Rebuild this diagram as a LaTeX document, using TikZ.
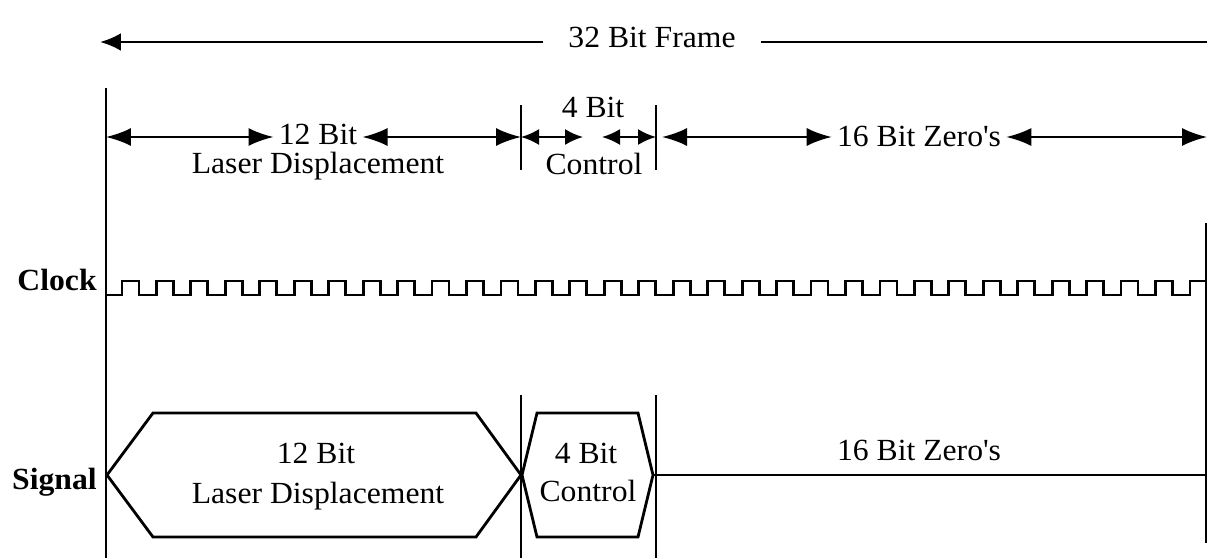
\documentclass[tikz,border=0pt]{standalone}
\usepackage{fontspec}
\setmainfont{Liberation Serif}[FakeStretch=1.03]
\usetikzlibrary{arrows.meta}

\begin{document}
\begin{tikzpicture}[
    x=0.02cm, y=-0.02cm,
    txt/.style={anchor=base, inner xsep=0.1cm, inner ysep=0pt, font=\fontsize{17.5}{21}\selectfont},
    rowname/.style={anchor=base east, inner sep=0pt, font=\fontsize{17.5}{21}\selectfont\bfseries},
    dim/.style={line width=1.2pt, {Latex[length=0.5cm,width=0.36cm]}-{Latex[length=0.5cm,width=0.36cm]}},
    dimsmall/.style={line width=1.2pt, {Latex[length=0.36cm,width=0.32cm]}-{Latex[length=0.36cm,width=0.32cm]}},
    divider/.style={line width=1.1pt},
    trace/.style={line width=1.6pt, line join=miter}
  ]
  \useasboundingbox (0,0) rectangle (1209,558);

  % 32 bit frame
  \node[txt, inner xsep=0.5cm] (frame) at (652,47) {32 Bit Frame};
  \coordinate (frameL) at (100,42);
  \coordinate (frameR) at (1207,42);
  \draw[line width=1.7pt, -{Latex[length=0.42cm,width=0.36cm]}] (frame.west |- frameL) -- (frameL);
  \draw[line width=1.7pt] (frame.east |- frameR) -- (frameR);

  % bit boundaries
  \coordinate (b0) at (106,137);
  \coordinate (b12) at (521,137);
  \coordinate (b16) at (656,137);
  \coordinate (zeroL) at (662,137);
  \coordinate (b32) at (1207,137);
  \draw[divider] (106,88) -- (106,558);
  \draw[divider] (521,105) -- (521,170);
  \draw[divider] (656,105) -- (656,170);
  \draw[divider] (521,395) -- (521,558);
  \draw[divider] (656,395) -- (656,558);
  \draw[divider] (1206,223) -- (1206,543);

  % 12 bit laser displacement
  \node[txt] (dispbits) at (318,144) {12 Bit};
  \node[txt] (disptext) at (318,173) {Laser Displacement};
  \draw[dim] (b0) -- (dispbits.west |- b0);
  \draw[dim] (dispbits.east |- b12) -- (b12);

  % 4 bit control
  \node[txt] (ctrlbits) at (593,117) {4 Bit};
  \node[txt] (ctrltext) at (594,174) {Control};
  \coordinate (ctrlL) at (583,137);
  \coordinate (ctrlR) at (602,137);
  \draw[dimsmall] (b12) -- (ctrlL);
  \draw[dimsmall] (ctrlR) -- (b16);

  % 16 bit zeros
  \node[txt] (zerobits) at (919,146) {16 Bit Zero\textquotesingle s};
  \draw[dim] (zeroL) -- (zerobits.west |- zeroL);
  \draw[dim] (zerobits.east |- b32) -- (b32);

  % clock
  \node[rowname] (clock) at (97,290) {Clock};
  \draw[trace] (106,295) -- (122,295)
    foreach \i in {1,...,31} { -- ++(0,-14) -- ++(17,0) -- ++(0,14) -- ++(17.45,0) }
    -- ++(0,-14) -- (1206,281);

  % signal
  \node[rowname] (signal) at (97,489) {Signal};
  \draw[trace] (107,475) -- (153,413) -- (476,413) -- (521,475) -- (476,537) -- (153,537) -- cycle;
  \draw[trace] (522,475) -- (537,413) -- (638,413) -- (653,475) -- (638,537) -- (537,537) -- cycle;
  \draw[trace] (653,475) -- (1207,475);
  \node[txt] (sigdispbits) at (316,463) {12 Bit};
  \node[txt] (sigdisptext) at (318,503) {Laser Displacement};
  \node[txt] (sigctrlbits) at (586,463) {4 Bit};
  \node[txt] (sigctrltext) at (588,501) {Control};
  \node[txt] (sigzero) at (919,460) {16 Bit Zero\textquotesingle s};

\end{tikzpicture}
\end{document}
